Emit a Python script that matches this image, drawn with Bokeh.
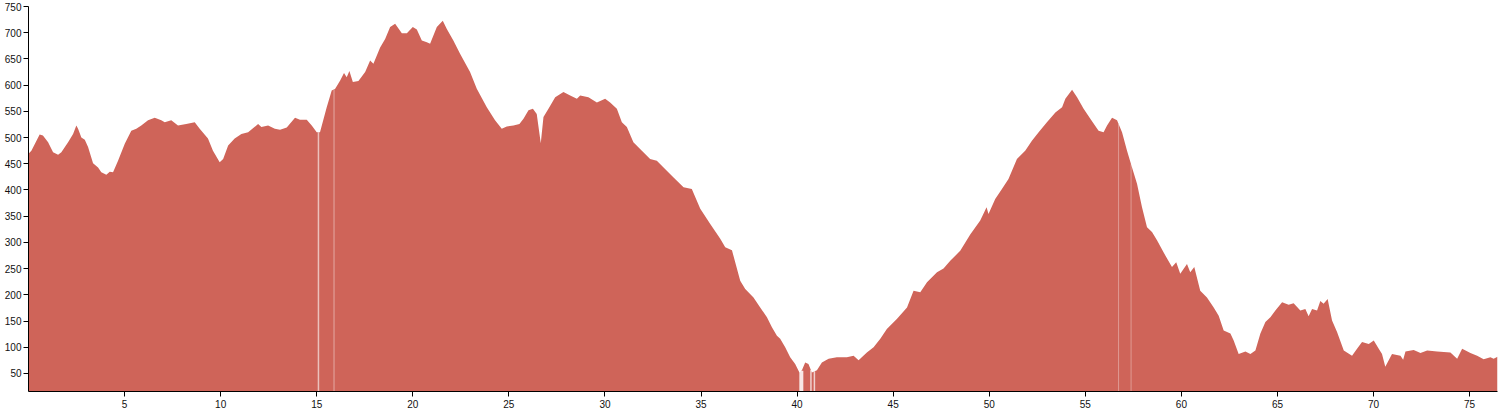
import numpy as np
from bokeh.plotting import figure
from bokeh.models import Range1d, FixedTicker, GlobalInlineStyleSheet
from bokeh.embed import file_html
from bokeh.resources import INLINE

# distance along route (km)
km = [0.0, 0.15, 0.58, 0.75, 1.02, 1.28, 1.54, 1.71, 2.06, 2.32, 2.49, 2.58, 2.75, 2.93, 3.10,
      3.36, 3.62, 3.79, 4.05, 4.23, 4.40, 4.66, 5.01, 5.35, 5.61, 5.87, 6.22, 6.57, 6.91, 7.09,
      7.43, 7.78, 8.21, 8.65, 8.91, 9.34, 9.60, 9.95, 10.13, 10.39, 10.73, 11.08, 11.43, 11.95,
      12.12, 12.47, 12.82, 13.09, 13.44, 13.87, 14.13, 14.48, 14.74, 15.00, 15.17, 15.52, 15.78,
      15.96, 16.22, 16.42, 16.56, 16.70, 16.88, 17.17, 17.52, 17.78, 17.95, 18.30, 18.56, 18.82,
      19.08, 19.43, 19.69, 20.00, 20.21, 20.47, 20.73, 20.90, 21.25, 21.56, 21.77, 22.11, 22.46,
      22.98, 23.33, 23.85, 24.28, 24.63, 24.89, 25.24, 25.55, 25.76, 26.02, 26.25, 26.45, 26.66,
      26.80, 27.06, 27.41, 27.84, 28.19, 28.54, 28.71, 29.14, 29.58, 30.01, 30.27, 30.62, 30.88,
      31.14, 31.48, 31.92, 32.35, 32.70, 33.05, 33.57, 34.09, 34.52, 34.96, 35.48, 36.00, 36.26,
      36.61, 37.04, 37.30, 37.73, 38.08, 38.43, 38.69, 38.95, 39.12, 39.38, 39.64, 39.90, 40.12,
      40.25, 40.42, 40.59, 40.77, 41.03, 41.29, 41.64, 42.07, 42.59, 42.94, 43.20, 43.63, 43.98,
      44.33, 44.67, 45.19, 45.72, 46.06, 46.41, 46.76, 47.28, 47.62, 47.97, 48.49, 49.01, 49.53,
      49.86, 49.96, 50.31, 50.66, 51.00, 51.44, 51.87, 52.22, 52.57, 53.00, 53.44, 53.79, 53.96,
      54.31, 54.57, 54.91, 55.26, 55.69, 55.95, 56.13, 56.39, 56.65, 56.91, 57.17, 57.43, 57.69,
      57.95, 58.21, 58.47, 58.73, 59.07, 59.51, 59.73, 59.94, 60.29, 60.46, 60.67, 60.98, 61.33,
      61.68, 61.94, 62.20, 62.55, 62.72, 62.98, 63.33, 63.59, 63.85, 64.11, 64.37, 64.63, 64.89,
      65.24, 65.58, 65.84, 66.19, 66.45, 66.62, 66.80, 67.06, 67.23, 67.40, 67.61, 67.84, 68.10,
      68.45, 68.88, 69.14, 69.40, 69.75, 70.01, 70.27, 70.44, 70.61, 70.96, 71.40, 71.54, 71.66,
      72.09, 72.44, 72.79, 73.31, 74.00, 74.35, 74.61, 75.04, 75.39, 75.73, 76.08, 76.25, 76.45]

# elevation (m)
elev = [469, 475, 506, 504, 491, 472, 467, 472, 491, 507, 523, 517, 500, 496, 482,
        451, 443, 434, 429, 435, 434, 456, 488, 513, 517, 523, 533, 538, 533, 529,
        533, 523, 526, 529, 517, 498, 475, 453, 459, 485, 498, 507, 510, 526,
        520, 523, 517, 515, 519, 538, 534, 534, 523, 510, 510, 558, 590,
        593, 609, 623, 615, 627, 606, 608, 625, 647, 641, 672, 688, 711,
        717, 699, 699, 711, 706, 685, 682, 679, 711, 723, 707, 685, 660,
        625, 593, 558, 533, 517, 521, 523, 526, 536, 552, 555, 545, 489,
        539, 555, 577, 587, 580, 574, 580, 577, 567, 574, 567, 555, 529,
        520, 491, 475, 459, 456, 443, 424, 405, 402, 364, 335, 307, 291,
        285, 227, 211, 195, 176, 157, 138, 122, 116, 100, 81, 68, 52,
        56, 71, 68, 52, 56, 71, 78, 81, 81, 84, 75, 90, 100,
        116, 135, 154, 176, 208, 205, 224, 243, 250, 265, 284, 315, 342,
        367, 354, 383, 402, 421, 459, 475, 494, 510, 529, 548, 558, 574,
        591, 577, 555, 536, 513, 510, 523, 538, 533, 510, 475, 443, 412,
        367, 329, 320, 304, 281, 253, 262, 240, 259, 243, 253, 208, 195,
        176, 160, 132, 126, 113, 87, 92, 87, 94, 126, 148, 157, 170,
        186, 181, 184, 170, 173, 159, 173, 170, 188, 183, 192, 151, 129,
        94, 84, 97, 110, 106, 113, 97, 87, 63, 87, 84, 76, 92,
        95, 89, 94, 92, 90, 78, 97, 89, 84, 77, 81, 78, 82]

# small breaks in the recorded track (km)
gap_km = [15.09, 15.90, 40.22, 40.72, 40.90, 56.73, 57.38]
gap_width = [1.5, 1, 4, 1.5, 1.5, 1, 1]
gap_alpha = [0.6, 0.45, 0.85, 0.7, 0.7, 0.35, 0.35]

y_ticks = list(range(50, 751, 50))
x_ticks = list(range(5, 76, 5))

Y0 = 15.6
X1 = 76.45

p = figure(width=1499, height=413, output_backend="svg", toolbar_location=None,
           x_range=Range1d(0, X1), y_range=Range1d(Y0, 750),
           min_border_left=28, min_border_right=2, min_border_top=6, min_border_bottom=22)
p.stylesheets = [GlobalInlineStyleSheet(css="body { margin: 0 !important; overflow: hidden; }")]

p.varea(x=km, y1=Y0, y2=elev, fill_color="#cf6459", fill_alpha=1.0)

gap_top = np.interp(gap_km, km, elev)
p.segment(x0=gap_km, y0=[Y0] * len(gap_km), x1=gap_km, y1=gap_top,
          line_color="white", line_width=gap_width, line_alpha=gap_alpha, line_cap="butt")

p.outline_line_color = None
p.grid.visible = False
p.background_fill_color = "white"
p.border_fill_color = "white"

for ax in (p.xaxis[0], p.yaxis[0]):
    ax.axis_line_color = "black"
    ax.axis_line_width = 1
    ax.major_tick_line_color = "black"
    ax.major_tick_out = 5
    ax.major_tick_in = 0
    ax.minor_tick_line_color = None
    ax.major_label_text_font = "Liberation Sans"
    ax.major_label_text_font_size = "10px"
    ax.major_label_text_color = "#111111"

p.yaxis[0].ticker = FixedTicker(ticks=y_ticks)
p.xaxis[0].ticker = FixedTicker(ticks=x_ticks)
p.yaxis[0].major_label_standoff = 2
p.xaxis[0].major_label_standoff = 3

open("out.html", "w").write(file_html(p, INLINE))
